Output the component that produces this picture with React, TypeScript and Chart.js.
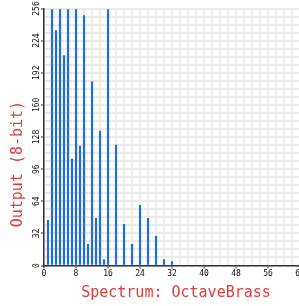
import { useEffect, useRef } from 'react';
import { Chart, registerables } from 'chart.js';

Chart.register(...registerables);

// Harmonic bin index (x) and its 8-bit output level (y)
const harmonicBins = [1, 2, 3, 4, 5, 6, 7, 8, 9, 10, 11, 12, 13, 14, 15, 16, 18, 20, 22, 24, 26, 28, 30, 32];
const outputLevels = [45, 255, 234, 255, 209, 255, 106, 255, 119, 249, 21, 183, 47, 134, 6, 255, 120, 41, 21, 60, 47, 29, 6, 4];

const xTickLabels = [0, 8, 16, 24, 32, 40, 48, 56, 64];
const yTickLabels = [0, 32, 64, 96, 128, 160, 192, 224, 256];

const xAxisTitle = 'Spectrum: OctaveBrass';
const yAxisTitle = 'Output (8-bit)';

const MONO = "'DejaVu Sans Mono', monospace";
const TITLE_RED = '#e23b3b';
const BAR_BLUE = '#1d6af2';
const GRID = '#ebebeb';
const AXIS = '#333333';

export default function App() {
  const ref = useRef<HTMLCanvasElement>(null);

  useEffect(() => {
    const canvas = ref.current;
    if (!canvas) return;
    const chart = new Chart(canvas, {
      type: 'bar',
      data: {
        datasets: [
          {
            data: harmonicBins.map((x, i) => ({ x, y: outputLevels[i] })),
            backgroundColor: BAR_BLUE,
            borderWidth: 0,
            barThickness: 1.5,
          },
        ],
      },
      options: {
        animation: false,
        responsive: true,
        maintainAspectRatio: false,
        layout: { padding: { top: 8.5, right: 10, bottom: 0, left: 0 } },
        plugins: {
          legend: { display: false },
          tooltip: { enabled: false },
        },
        scales: {
          x: {
            type: 'linear',
            min: 0,
            max: 66,
            offset: false,
            grid: {
              offset: false,
              color: GRID,
              lineWidth: 2,
              tickLength: 3,
              tickWidth: 1,
              tickColor: (c: any) => (xTickLabels.includes(c.tick?.value) ? AXIS : 'rgba(0,0,0,0)'),
            },
            border: { color: AXIS, width: 1.5 },
            ticks: {
              stepSize: 2,
              autoSkip: false,
              minRotation: 0,
              maxRotation: 0,
              padding: 1,
              color: '#111',
              font: { family: MONO, size: 8 },
              callback: (v: any) => (xTickLabels.includes(Number(v)) ? String(v) : ''),
            },
            title: {
              display: true,
              text: xAxisTitle,
              color: TITLE_RED,
              font: { family: MONO, size: 15 },
              padding: { top: 0, bottom: 3.5 },
            },
            afterFit: (s: any) => {
              s.height = 40.5;
            },
          },
          y: {
            type: 'linear',
            position: 'left',
            min: 0,
            max: 256,
            grid: {
              color: GRID,
              lineWidth: 2,
              tickLength: 3,
              tickWidth: 1,
              tickColor: (c: any) => (yTickLabels.includes(c.tick?.value) ? AXIS : 'rgba(0,0,0,0)'),
            },
            border: { color: AXIS, width: 1.5 },
            ticks: {
              stepSize: 8,
              autoSkip: false,
              minRotation: 90,
              maxRotation: 90,
              crossAlign: 'center',
              padding: -3,
              color: '#111',
              font: { family: MONO, size: 8 },
              callback: (v: any) => (yTickLabels.includes(Number(v)) ? String(v) : ''),
            },
            title: {
              display: true,
              text: yAxisTitle + '      ',
              color: TITLE_RED,
              font: { family: MONO, size: 15 },
              padding: { top: 9.5, bottom: 0 },
            },
            afterFit: (s: any) => {
              s.width = 44;
            },
          },
        },
      },
    });
    return () => chart.destroy();
  }, []);

  return (
    <div style={{ position: 'absolute', left: 0, top: 0, width: 299, height: 306, overflow: 'hidden' }}>
      <div style={{ position: 'relative', width: 318, height: 306 }}>
        <canvas ref={ref} />
      </div>
    </div>
  );
}
